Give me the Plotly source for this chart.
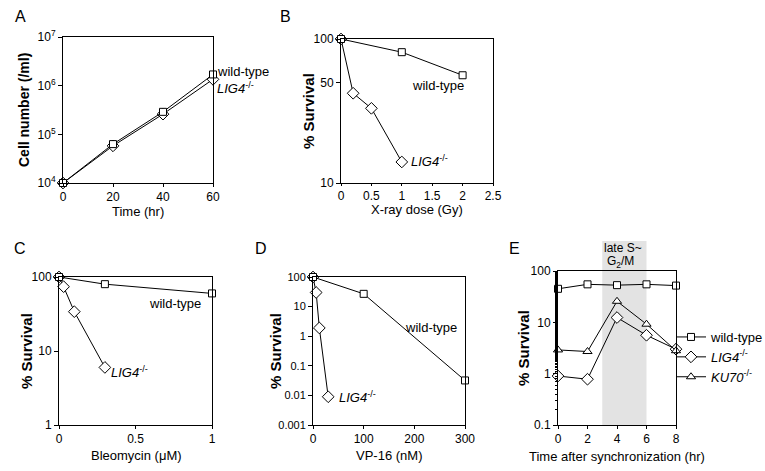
import plotly.graph_objects as go

# ---------------- data ----------------
a_time = [0, 20, 40, 60]
a_wt = [1e4, 6.3e4, 2.9e5, 1.7e6]
a_lig4 = [1e4, 5.8e4, 2.6e5, 1.35e6]

b_dose_wt = [0, 1, 2]
b_wt = [100, 81, 56]
b_dose_lig4 = [0, 0.2, 0.5, 1]
b_lig4 = [100, 42, 33, 14]

c_bleo_wt = [0, 0.3, 1]
c_wt = [100, 80, 60]
c_bleo_lig4 = [0, 0.03, 0.1, 0.3]
c_lig4 = [100, 74, 34, 6]

d_vp_wt = [0, 100, 300]
d_wt = [100, 27, 0.032]
d_vp_lig4 = [0, 6.25, 12.5, 30]
d_lig4 = [100, 30, 1.9, 0.009]

e_time = [0, 2, 4, 6, 8]
e_wt = [45, 55, 53, 55, 52]
e_lig4 = [0.9, 0.78, 12.4, 5.6, 3.0]
e_ku70 = [2.9, 2.7, 25.7, 9.2, 2.8]
e_phase = [3, 6]

W, H = 765, 471
FONT = "Liberation Sans, Arial, Helvetica, sans-serif"


def px(x):
    return x / W


def py(y):
    return 1 - y / H


line = dict(color="black", width=1)
sq = dict(symbol="square", size=7, color="white", line=dict(color="black", width=1))
dm = dict(symbol="diamond", size=9, color="white", line=dict(color="black", width=1))
tr = dict(symbol="triangle-up", size=8, color="white", line=dict(color="black", width=1))

fig = go.Figure()


def add(x, y, marker, ax, name=None, legend=False):
    fig.add_trace(go.Scatter(
        x=x, y=y, mode="lines+markers", line=line, marker=marker,
        xaxis="x" + ax, yaxis="y" + ax, cliponaxis=False,
        name=name, showlegend=legend))


add(a_time, a_lig4, dm, "")
add(a_time, a_wt, sq, "")
add(b_dose_lig4, b_lig4, dm, "2")
add(b_dose_wt, b_wt, sq, "2")
add(c_bleo_lig4, c_lig4, dm, "3")
add(c_bleo_wt, c_wt, sq, "3")
add(d_vp_lig4, d_lig4, dm, "4")
add(d_vp_wt, d_wt, sq, "4")
add(e_time, e_wt, sq, "5", "wild-type", True)
add(e_time, e_lig4, dm, "5", "<i>LIG4</i><sup>-/-</sup>", True)
add(e_time, e_ku70, tr, "5", "<i>KU70</i><sup>-/-</sup>", True)

tickfont = dict(family=FONT, size=12, color="black")


def xax(x0, x1, rng, vals, texts, anchor, ticklen=3):
    return dict(domain=[px(x0), px(x1)], range=rng, tickvals=vals, ticktext=texts,
                showline=True, mirror=True, linecolor="black", linewidth=1,
                ticks="outside", ticklen=ticklen, tickcolor="black", showgrid=False,
                zeroline=False, tickfont=tickfont, anchor=anchor, automargin=False)


def yax(y0, y1, rng, vals, texts, anchor, minor=False, font=None):
    d = dict(domain=[py(y1), py(y0)], type="log", range=rng, tickvals=vals, ticktext=texts,
             showline=True, mirror=True, linecolor="black", linewidth=1,
             ticks="outside", ticklen=4, tickcolor="black", showgrid=False,
             zeroline=False, tickfont=font or tickfont, anchor=anchor, automargin=False)
    if minor:
        d["minor"] = dict(ticks="outside", ticklen=2, tickcolor="black", showgrid=False)
    return d


fig.update_layout(
    width=W, height=H, margin=dict(l=0, r=0, t=0, b=0, autoexpand=False),
    paper_bgcolor="white", plot_bgcolor="white",
    font=dict(family=FONT, color="black"),
    xaxis=xax(63, 213, [0, 60], [0, 20, 40, 60], ["0", "20", "40", "60"], "y"),
    yaxis=yax(37, 183, [4, 7], [1e4, 1e5, 1e6, 1e7],
              ["10<sup>4</sup>", "10<sup>5</sup>", "10<sup>6</sup>", "10<sup>7</sup>"], "x"),
    xaxis2=xax(341, 493, [0, 2.5], [0, 0.5, 1, 1.5, 2, 2.5],
               ["0", "0.5", "1", "1.5", "2", "2.5"], "y2", ticklen=2),
    yaxis2=yax(39, 183, [1, 2], [10, 50, 100], ["10", "50", "100"], "x2"),
    xaxis3=xax(59, 212, [0, 1], [0, 0.5, 1], ["0", "0.5", "1"], "y3"),
    yaxis3=yax(277, 425, [0, 2], [1, 10, 100], ["1", "10", "100"], "x3"),
    xaxis4=xax(313, 465, [0, 300], [0, 100, 200, 300], ["0", "100", "200", "300"], "y4"),
    yaxis4=yax(277, 425, [-3, 2], [0.001, 0.01, 0.1, 1, 10, 100],
               ["0.001", "0.01", "0.1", "1", "10", "100"], "x4",
               font=dict(family=FONT, size=11, color="black")),
    xaxis5=xax(558, 676, [0, 8], [0, 2, 4, 6, 8], ["0", "2", "4", "6", "8"], "y5"),
    yaxis5=yax(271, 425, [-1, 2], [0.1, 1, 10, 100], ["0.1", "1", "10", "100"], "x5", minor=True),
    legend=dict(x=px(671), y=py(322), xanchor="left", yanchor="top",
                font=dict(family=FONT, size=13, color="black"),
                bgcolor="rgba(0,0,0,0)", tracegroupgap=0, itemwidth=30),
)

# shaded phase band in panel E
fig.add_shape(type="rect", xref="x5", yref="paper", x0=e_phase[0], x1=e_phase[1],
              y0=py(425), y1=py(241), fillcolor="#e3e3e3", line=dict(width=0), layer="below")

ann = []


def text(x, y, s, size=13, xanchor="center", yanchor="middle", textangle=0):
    ann.append(dict(x=px(x), y=py(y), xref="paper", yref="paper", text=s, showarrow=False,
                    xanchor=xanchor, yanchor=yanchor, textangle=textangle,
                    font=dict(family=FONT, size=size, color="black")))


# panel letters
text(20, 17, "A", 16)
text(285, 17, "B", 16)
text(20, 248, "C", 16)
text(261, 248, "D", 16)
text(514, 248, "E", 16)

# axis titles
text(138, 211, "Time (hr)", 13)
text(24, 110, "<b>Cell number (/ml)</b>", 14, textangle=-90)
text(417, 209, "X-ray dose (Gy)", 13)
text(309, 111, "<b>% Survival</b>", 15, textangle=-90)
text(136, 455, "Bleomycin (\u03bcM)", 13)
text(26, 351, "<b>% Survival</b>", 15, textangle=-90)
text(389, 455, "VP-16 (nM)", 13)
text(275, 351, "<b>% Survival</b>", 15, textangle=-90)
text(617, 456, "Time after synchronization (hr)", 13)
text(523, 348, "<b>% Survival</b>", 15, textangle=-90)

# series labels
text(215, 72, "wild-type", 13, xanchor="left")
text(215, 88, "<i>LIG4</i><sup>-/-</sup>", 13, xanchor="left")
text(438, 86, "wild-type", 13)
text(409, 161, "<i>LIG4</i><sup>-/-</sup>", 13, xanchor="left")
text(175, 303, "wild-type", 13)
text(109, 372, "<i>LIG4</i><sup>-/-</sup>", 13, xanchor="left")
text(431, 327, "wild-type", 13)
text(337, 397, "<i>LIG4</i><sup>-/-</sup>", 13, xanchor="left")
text(623, 248, "late S~", 12)
text(620, 262, "G<sub>2</sub>/M", 12)

fig.update_layout(annotations=ann)
fig.write_html("out.html", config={"displayModeBar": False},
               post_script="document.body.style.margin='0';document.body.style.overflow='hidden';")
